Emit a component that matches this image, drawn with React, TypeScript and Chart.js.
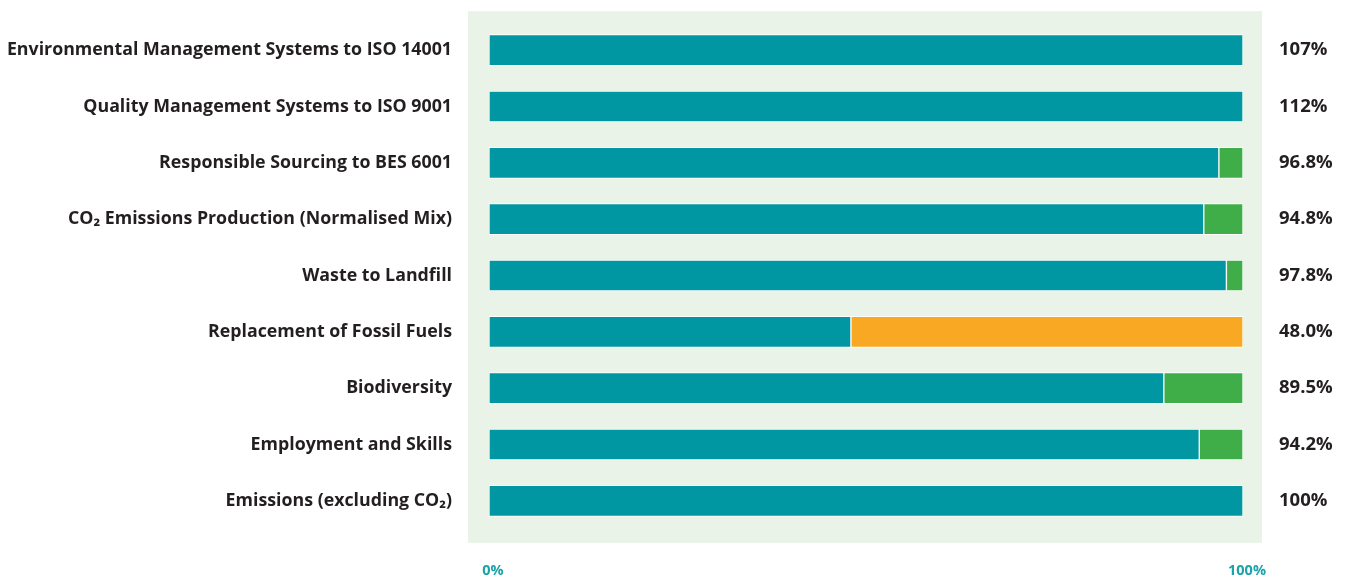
import React, { useEffect, useRef } from "react";
import { Chart, registerables } from "chart.js";

Chart.register(...registerables);

const categories = [
  "Environmental Management Systems to ISO 14001",
  "Quality Management Systems to ISO 9001",
  "Responsible Sourcing to BES 6001",
  "CO₂ Emissions Production (Normalised Mix)",
  "Waste to Landfill",
  "Replacement of Fossil Fuels",
  "Biodiversity",
  "Employment and Skills",
  "Emissions (excluding CO₂)",
];
const performance = [107, 112, 96.8, 94.8, 97.8, 48.0, 89.5, 94.2, 100];
const valueLabels = ["107%", "112%", "96.8%", "94.8%", "97.8%", "48.0%", "89.5%", "94.2%", "100%"];
const achieved = performance.map((v) => Math.min(v, 100));
const remaining = achieved.map((v) => +(100 - v).toFixed(1));
const remainderColors = ["#3fae49", "#3fae49", "#3fae49", "#3fae49", "#3fae49", "#f8a823", "#3fae49", "#3fae49", "#3fae49"];
const xTicks = [0, 100];

const TEAL = "#0096a2";
const TEXT = "#231f20";
const FONT = "'Open Sans', sans-serif";

const panelPlugin = {
  id: "panel",
  beforeDraw(chart: any) {
    const { ctx } = chart;
    const x = chart.scales.x;
    const y = chart.scales.y;
    const left = x.getPixelForValue(0) - 21;
    const right = x.getPixelForValue(100) + 19;
    const top = y.getPixelForValue(0) - 39;
    const bottom = y.getPixelForValue(categories.length - 1) + 42;
    ctx.save();
    ctx.fillStyle = "#e9f3e7";
    ctx.fillRect(left, top, right - left, bottom - top);
    ctx.restore();
  },
};

export default function App() {
  const ref = useRef<HTMLCanvasElement>(null);
  useEffect(() => {
    const chart = new Chart(ref.current!, {
      type: "bar",
      data: {
        labels: categories,
        datasets: [
          {
            data: achieved,
            backgroundColor: TEAL,
            borderColor: "#ffffff",
            borderWidth: 1,
            borderSkipped: false,
            barThickness: 31,
          },
          {
            data: remaining,
            backgroundColor: remainderColors,
            borderColor: "#ffffff",
            borderWidth: 1,
            borderSkipped: false,
            barThickness: 31,
          },
        ],
      },
      options: {
        indexAxis: "y",
        animation: false,
        responsive: false,
        maintainAspectRatio: false,
        layout: { padding: { top: 22, left: 0, right: 0, bottom: 0 } },
        plugins: { legend: { display: false }, tooltip: { enabled: false }, title: { display: false } },
        scales: {
          x: {
            stacked: true,
            min: 0,
            max: 100,
            afterBuildTicks: (s: any) => {
              s.ticks = xTicks.map((v) => ({ value: v }));
            },
            afterFit: (s: any) => {
              s.height = 47;
              s.paddingLeft = 0;
              s.paddingRight = 0;
            },
            grid: { display: false, drawTicks: false },
            border: { display: false },
            ticks: {
              padding: 33,
              labelOffset: 4,
              color: "#1aa3a8",
              font: { family: FONT, size: 14.5, weight: "bold" },
              callback: (v: any) => v + "%",
            },
          },
          y: {
            stacked: true,
            position: "left",
            afterFit: (s: any) => {
              s.width = 489;
              s.paddingTop = 0;
              s.paddingBottom = 0;
            },
            grid: { display: false, drawTicks: false },
            border: { display: false },
            ticks: {
              padding: 37,
              color: TEXT,
              font: { family: FONT, size: 17.8, weight: "bold" },
            },
          },
          y2: {
            type: "category",
            labels: valueLabels,
            position: "right",
            offset: true,
            afterFit: (s: any) => {
              s.width = 102;
              s.paddingTop = 0;
              s.paddingBottom = 0;
            },
            grid: { display: false, drawTicks: false },
            border: { display: false },
            ticks: {
              padding: 36,
              color: TEXT,
              font: { family: FONT, size: 18.5, weight: "bold" },
            },
          },
        },
      } as any,
      plugins: [panelPlugin],
    });
    return () => chart.destroy();
  }, []);
  return (
    <div style={{ position: "fixed", left: 0, top: 0, width: 1345, height: 576, background: "#fff" }}>
      <canvas ref={ref} width={1345} height={576} style={{ display: "block" }} />
    </div>
  );
}
